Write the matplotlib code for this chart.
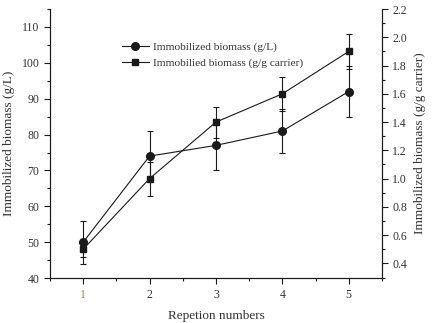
import matplotlib
matplotlib.use('Agg')
import matplotlib.pyplot as plt
from matplotlib.lines import Line2D
from matplotlib.ticker import MultipleLocator

# data
reps = [1, 2, 3, 4, 5]
biomass_gl = [50, 74, 77, 81, 92]
biomass_gl_err = [6, 7, 7, 6, 7.2]
biomass_gg = [0.5, 1.0, 1.4, 1.6, 1.9]
biomass_gg_err = [0.055, 0.12, 0.11, 0.12, 0.125]

plt.rcParams['font.family'] = ['Liberation Serif', 'DejaVu Serif']
txt = '#333333'
ink = '#1a1a1a'

fig = plt.figure(figsize=(4.38, 3.23), dpi=100)
ax = fig.add_axes([0.114, 0.139, 0.758, 0.833])
ax2 = ax.twinx()

ax.errorbar(reps, biomass_gl, yerr=biomass_gl_err, color=ink, marker='o',
            markersize=5.5, lw=0.8, elinewidth=0.8, capsize=2.5, capthick=0.8)
ax2.errorbar(reps, biomass_gg, yerr=biomass_gg_err, color=ink, marker='s',
             markersize=5, lw=0.8, elinewidth=0.8, capsize=2.5, capthick=0.8)

ax.set_xlim(0.5, 5.5)
ax.set_ylim(40, 115)
ax2.set_ylim(0.296, 2.2)

ax.set_xticks(reps)
ax.xaxis.set_minor_locator(MultipleLocator(0.5))
ax.yaxis.set_major_locator(MultipleLocator(10))
ax.yaxis.set_minor_locator(MultipleLocator(5))
ax2.yaxis.set_minor_locator(MultipleLocator(0.1))
ax2.set_yticks([0.4, 0.6, 0.8, 1.0, 1.2, 1.4, 1.6, 1.8, 2.0, 2.2])

for a in (ax, ax2):
    a.spines['top'].set_visible(False)
    for s in a.spines.values():
        s.set_linewidth(0.8)
        s.set_color(ink)
    a.tick_params(which='major', direction='out', length=4, width=0.8,
                  labelsize=8.5, labelcolor=txt, color=ink)
    a.tick_params(which='minor', direction='out', length=2.5, width=0.8, color=ink)

ax.get_xticklabels()[0].set_color('#a8942e')

ax.set_xlabel('Repetion numbers', fontsize=9.5, color=txt, labelpad=7)
ax.set_ylabel('Immobilized biomass (g/L)', fontsize=9.5, color=txt, labelpad=5)
ax2.set_ylabel('Immobilized biomass (g/g carrier)', fontsize=9.5, color=txt, labelpad=5)

h1 = Line2D([], [], color=ink, marker='o', markersize=5.5, lw=0.8)
h2 = Line2D([], [], color=ink, marker='s', markersize=5, lw=0.8)
ax.legend([h1, h2], ['Immobilized biomass (g/L)', 'Immobilied biomass (g/g carrier)'],
          loc='upper left', bbox_to_anchor=(0.185, 0.915), frameon=False, fontsize=8.2,
          handlelength=2.4, handletextpad=0.4, labelspacing=0.5, labelcolor=txt)

fig.savefig('out.png', dpi=100)
